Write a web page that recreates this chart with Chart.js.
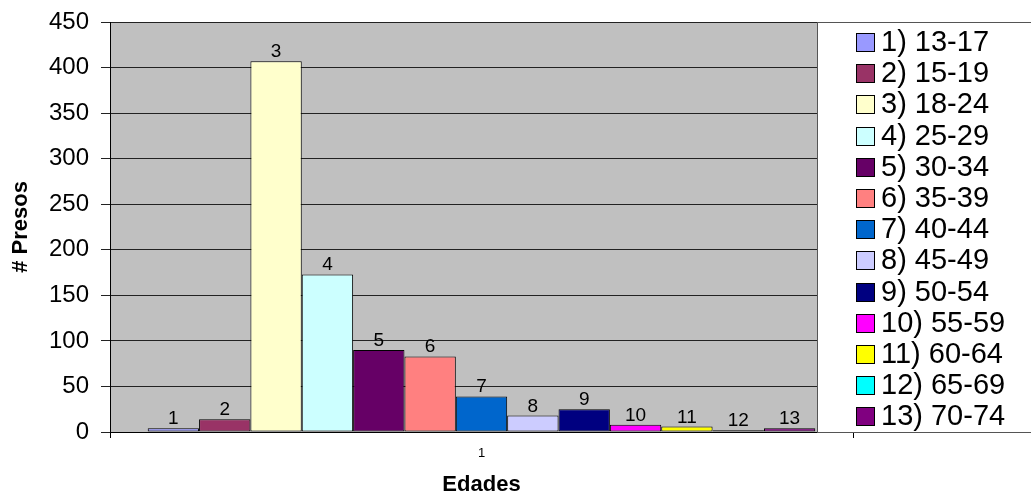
<!DOCTYPE html>
<html>
<head>
<meta charset="utf-8">
<title># Presos por edades</title>
<script src="https://cdn.jsdelivr.net/npm/chart.js@4.4.1/dist/chart.umd.min.js"></script>
<style>
  html, body { margin: 0; padding: 0; background: #ffffff; overflow: hidden; }
  #wrap { width: 1031px; height: 494px; position: relative; }
</style>
</head>
<body>
<div id="wrap"><canvas id="chart" width="1031" height="494"></canvas></div>
<script>
// Age groups and the number of inmates in each one
const categories = ['1'];
const groupLabels = ['1) 13-17', '2) 15-19', '3) 18-24', '4) 25-29', '5) 30-34', '6) 35-39',
                     '7) 40-44', '8) 45-49', '9) 50-54', '10) 55-59', '11) 60-64', '12) 65-69', '13) 70-74'];
const barNumbers = ['1', '2', '3', '4', '5', '6', '7', '8', '9', '10', '11', '12', '13'];
const presos = [4, 14, 407, 173, 90, 83, 39, 18, 25, 8, 6, 2, 4];
const groupColors = ['#9999FF', '#993366', '#FFFFCC', '#CCFFFF', '#660066', '#FF8080', '#0066CC',
                     '#CCCCFF', '#000080', '#FF00FF', '#FFFF00', '#00FFFF', '#800080'];
const yTicks = [0, 50, 100, 150, 200, 250, 300, 350, 400, 450];

const FONT = "'Liberation Sans', Arial, sans-serif";

const datasets = presos.map((v, i) => ({
  label: groupLabels[i],
  data: [v],
  backgroundColor: groupColors[i],
  borderColor: '#000000',
  borderWidth: 1,
  borderSkipped: false,
  categoryPercentage: 0.8985,
  barPercentage: 1
}));

// Grey plot background
const plotBackground = {
  id: 'plotBackground',
  beforeDraw(chart) {
    const { ctx, chartArea: a } = chart;
    ctx.save();
    ctx.fillStyle = '#C0C0C0';
    ctx.fillRect(a.left, a.top, a.right - a.left, a.bottom - a.top);
    ctx.restore();
  }
};

// Series number above each bar
const barNumberLabels = {
  id: 'barNumberLabels',
  afterDatasetsDraw(chart) {
    const { ctx } = chart;
    ctx.save();
    ctx.font = '19px ' + FONT;
    ctx.fillStyle = '#000000';
    ctx.textAlign = 'center';
    ctx.textBaseline = 'alphabetic';
    chart.data.datasets.forEach((ds, i) => {
      const el = chart.getDatasetMeta(i).data[0];
      if (!el) return;
      ctx.fillText(barNumbers[i], el.x, el.y - 4);
    });
    ctx.restore();
  }
};

// Axis titles and the boxed legend on the right
const titlesAndLegend = {
  id: 'titlesAndLegend',
  afterDraw(chart) {
    const { ctx, chartArea: a } = chart;
    ctx.save();
    ctx.fillStyle = '#000000';
    ctx.font = 'bold 22px ' + FONT;
    ctx.textAlign = 'center';
    ctx.textBaseline = 'middle';
    ctx.fillText('Edades', (a.left + a.right) / 2, 485);
    ctx.save();
    ctx.translate(21, (a.top + a.bottom) / 2);
    ctx.rotate(-Math.PI / 2);
    ctx.fillText('# Presos', 0, 0);
    ctx.restore();

    // legend frame, open on the right
    const lx = 817.5, ly = 22.5, lb = 432.5, rx = chart.width + 5;
    ctx.fillStyle = '#FFFFFF';
    ctx.fillRect(lx, ly, rx - lx, lb - ly);
    ctx.strokeStyle = '#555555';
    ctx.lineWidth = 1;
    ctx.beginPath();
    ctx.moveTo(rx, ly);
    ctx.lineTo(lx, ly);
    ctx.lineTo(lx, lb);
    ctx.lineTo(rx, lb);
    ctx.stroke();

    ctx.font = '29px ' + FONT;
    ctx.textAlign = 'left';
    ctx.textBaseline = 'middle';
    const rowStart = 42, rowStep = 31.2;
    chart.data.datasets.forEach((ds, i) => {
      const cy = rowStart + i * rowStep;
      const sy = Math.round(cy - 9) + 0.5;
      ctx.fillStyle = ds.backgroundColor;
      ctx.fillRect(856.5, sy, 18, 18);
      ctx.strokeStyle = '#000000';
      ctx.strokeRect(856.5, sy, 18, 18);
      ctx.fillStyle = '#000000';
      ctx.fillText(ds.label, 881, cy + 1);
    });
    ctx.restore();
  }
};

new Chart(document.getElementById('chart'), {
  type: 'bar',
  data: { labels: categories, datasets },
  plugins: [plotBackground, barNumberLabels, titlesAndLegend],
  options: {
    responsive: false,
    animation: false,
    layout: { padding: { left: 0, right: 178, top: 22, bottom: 0 } },
    plugins: {
      legend: { display: false },
      tooltip: { enabled: false },
      title: { display: false }
    },
    scales: {
      x: {
        grid: { display: true, drawOnChartArea: false, offset: true, tickLength: 6, color: '#000000' },
        border: { display: true, color: '#000000', width: 1 },
        ticks: { font: { family: FONT, size: 13 }, color: '#000000', padding: 8 },
        afterFit(scale) { scale.height = 62; }
      },
      y: {
        min: 0,
        max: 450,
        afterBuildTicks(scale) { scale.ticks = yTicks.map(v => ({ value: v })); },
        grid: { color: '#222222', lineWidth: 1, tickLength: 9 },
        border: { display: true, color: '#000000', width: 1 },
        ticks: { font: { family: FONT, size: 24, lineHeight: 0.8 }, color: '#000000', padding: 12 },
        afterFit(scale) { scale.width = 110; }
      }
    }
  }
});
</script>
</body>
</html>
